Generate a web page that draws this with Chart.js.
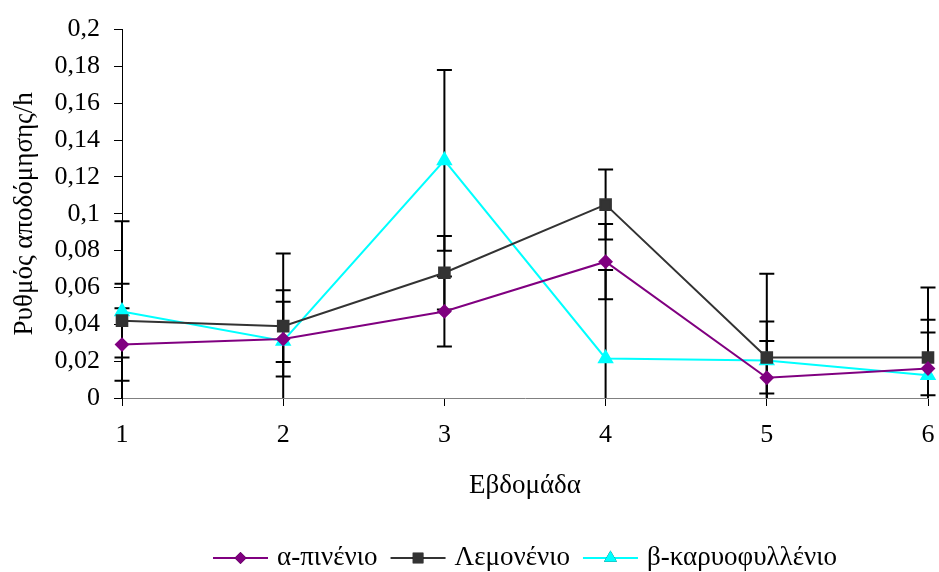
<!DOCTYPE html>
<html>
<head>
<meta charset="utf-8">
<script src="https://cdn.jsdelivr.net/npm/chart.js@4.4.1/dist/chart.umd.min.js"></script>
<style>
    body { margin: 0; background: #fff; }
    #wrap { width: 939px; height: 572px; }
</style>
</head>
<body>
<div id="wrap"><canvas id="rateChart" width="939" height="572"></canvas></div>
<script>
// Data
const weeks = ["1", "2", "3", "4", "5", "6"];
const seriesNames = ["α-πινένιο", "Λεμονένιο", "β-καρυοφυλλένιο"];

const pinene = [0.029, 0.032, 0.047, 0.074, 0.011, 0.016];
const pineneErr = [0.0197, 0.0203, 0.019, 0.0204, 0.020, 0.0195];

const limonene = [0.042, 0.039, 0.068, 0.105, 0.022, 0.022];
const limoneneErr = [0.020, 0.0195, 0.020, 0.019, 0.0195, 0.0205];

const caryophyllene = [0.047, 0.031, 0.129, 0.0215, 0.0204, 0.0124];
const caryophylleneErr = [0.049, 0.0475, 0.049, 0.048, 0.047, 0.0476];

const yTitle = "Ρυθμός αποδόμησης/h";
const xTitle = "Εβδομάδα";

const FONT = "'Liberation Serif', 'Times New Roman', serif";
const TICK_SIZE = 26;
const TEXT_SIZE = 27;

// error bars drawn under the markers
const errorBars = {
    id: "errorBars",
    beforeDatasetsDraw(chart) {
        const ctx = chart.ctx;
        const area = chart.chartArea;
        const yScale = chart.scales.y;
        const cap = 7.5;
        ctx.save();
        ctx.strokeStyle = "#000";
        ctx.lineWidth = 2;
        chart.data.datasets.forEach((ds, i) => {
            const meta = chart.getDatasetMeta(i);
            ds.errors.forEach((e, j) => {
                const x = meta.data[j].x;
                const hi = yScale.getPixelForValue(ds.data[j] + e);
                const lo = yScale.getPixelForValue(ds.data[j] - e);
                const top = Math.max(hi, area.top);
                const bottom = Math.min(lo, area.bottom);
                ctx.beginPath();
                ctx.moveTo(x, top);
                ctx.lineTo(x, bottom);
                if (hi >= area.top) { ctx.moveTo(x - cap, hi); ctx.lineTo(x + cap, hi); }
                if (lo <= area.bottom) { ctx.moveTo(x - cap, lo); ctx.lineTo(x + cap, lo); }
                ctx.stroke();
            });
        });
        ctx.restore();
    }
};

// legend like the original: line with marker in the middle, then name
const lineLegend = {
    id: "lineLegend",
    afterDraw(chart) {
        const ctx = chart.ctx;
        const area = chart.chartArea;
        const y = 558;
        const lineLen = 55, gapText = 9, gapItem = 13;
        ctx.save();
        ctx.font = TEXT_SIZE + "px " + FONT;
        ctx.textBaseline = "middle";
        const widths = chart.data.datasets.map(ds => ctx.measureText(ds.label).width);
        let total = 0;
        widths.forEach(w => total += lineLen + gapText + w);
        total += gapItem * (widths.length - 1);
        let x = (area.left + area.right) / 2 - total / 2;
        chart.data.datasets.forEach((ds, i) => {
            ctx.strokeStyle = ds.borderColor;
            ctx.lineWidth = 2;
            ctx.beginPath();
            ctx.moveTo(x, y);
            ctx.lineTo(x + lineLen, y);
            ctx.stroke();
            Chart.helpers.drawPoint(ctx, {
                pointStyle: ds.pointStyle,
                radius: ds.pointRadius,
                borderWidth: 0
            }, x + lineLen / 2, y);
            ctx.fillStyle = ds.pointBackgroundColor;
            ctx.fill();
            ctx.fillStyle = "#000";
            ctx.fillText(ds.label, x + lineLen + gapText, y);
            x += lineLen + gapText + widths[i] + gapItem;
        });
        ctx.restore();
    }
};

function commaTick(value) {
    return Number(value.toFixed(2)).toString().replace(".", ",");
}

const ctx = document.getElementById("rateChart").getContext("2d");

new Chart(ctx, {
    type: "line",
    data: {
        labels: weeks,
        datasets: [
            {
                label: seriesNames[0],
                data: pinene,
                errors: pineneErr,
                borderColor: "#800080",
                pointBackgroundColor: "#800080",
                pointBorderColor: "#800080",
                pointStyle: "rectRot",
                pointRadius: 6,
                borderWidth: 2
            },
            {
                label: seriesNames[1],
                data: limonene,
                errors: limoneneErr,
                borderColor: "#333333",
                pointBackgroundColor: "#333333",
                pointBorderColor: "#333333",
                pointStyle: "rect",
                pointRadius: 7.5,
                borderWidth: 2
            },
            {
                label: seriesNames[2],
                data: caryophyllene,
                errors: caryophylleneErr,
                borderColor: "#00FFFF",
                pointBackgroundColor: "#00FFFF",
                pointBorderColor: "#00FFFF",
                pointStyle: "triangle",
                pointRadius: 7.5,
                borderWidth: 2
            }
        ]
    },
    options: {
        responsive: false,
        animation: false,
        layout: { padding: { left: 0, right: 11, top: 26, bottom: 0 } },
        elements: { line: { tension: 0 }, point: { borderWidth: 1 } },
        plugins: {
            legend: { display: false },
            tooltip: { enabled: false }
        },
        scales: {
            x: {
                type: "category",
                offset: false,
                grid: { drawOnChartArea: false, drawTicks: true, tickLength: 8, color: "#000", offset: false },
                border: { color: "#808080", width: 1 },
                ticks: { color: "#000", padding: 14, font: { family: FONT, size: TICK_SIZE } },
                title: {
                    display: true,
                    text: xTitle,
                    color: "#000",
                    font: { family: FONT, size: TEXT_SIZE },
                    padding: { top: 0, bottom: 70 }
                },
                afterFit(scale) {
                    scale.height = 174;
                    // keep the plot reaching the right edge like the original
                    scale.paddingLeft = 0;
                    scale.paddingRight = 0;
                }
            },
            y: {
                min: 0,
                max: 0.2,
                grid: { drawOnChartArea: false, drawTicks: true, tickLength: 8, color: "#000" },
                border: { color: "#000", width: 1 },
                ticks: {
                    stepSize: 0.02,
                    color: "#000",
                    padding: 14,
                    font: { family: FONT, size: TICK_SIZE },
                    callback: commaTick
                },
                title: {
                    display: true,
                    text: yTitle,
                    color: "#000",
                    font: { family: FONT, size: TEXT_SIZE },
                    padding: { top: 9, bottom: 0 }
                },
                afterFit(scale) { scale.width = 122; }
            }
        }
    },
    plugins: [errorBars, lineLegend]
});
</script>
</body>
</html>
